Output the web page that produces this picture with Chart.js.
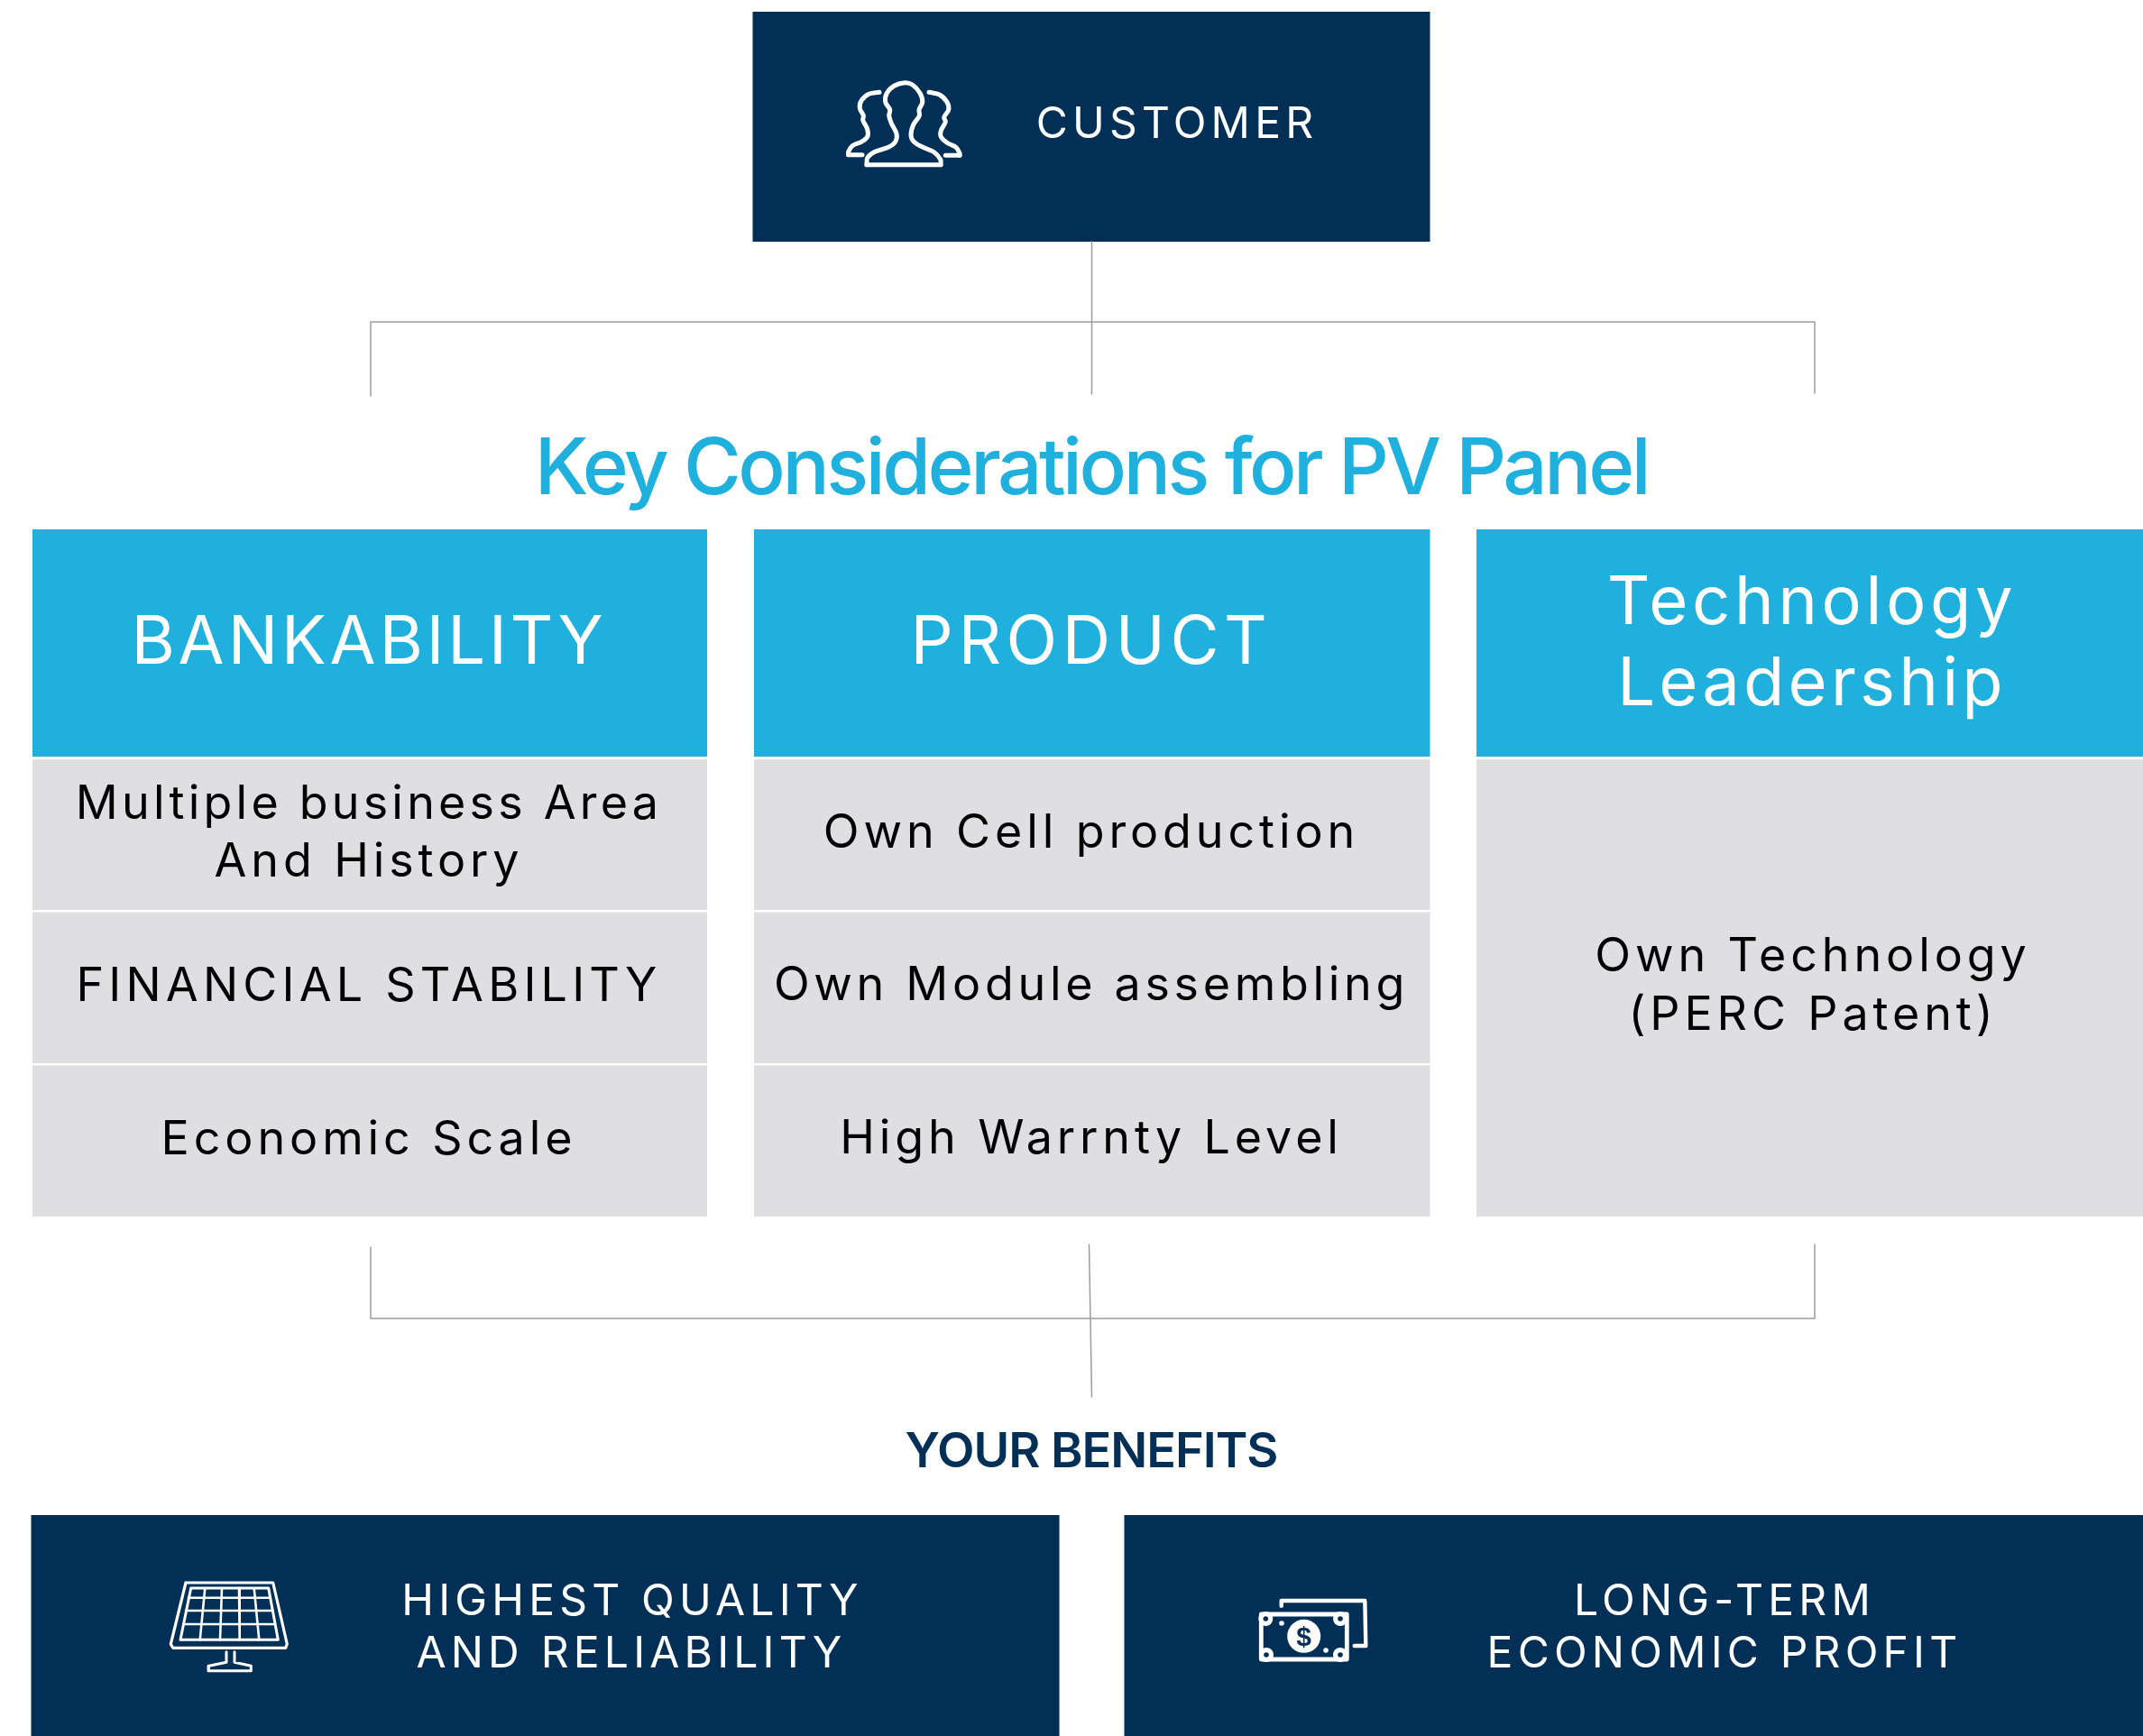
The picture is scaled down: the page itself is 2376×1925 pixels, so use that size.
<!DOCTYPE html>
<html lang="en">
<head>
    <meta charset="UTF-8">
    <title>Key Considerations for PV Panel</title>
    <script src="https://cdn.jsdelivr.net/npm/chart.js"></script>
    <style>
        html, body { margin: 0; padding: 0; background: #fff; overflow: hidden; }
        canvas { display: block; }
    </style>
</head>
<body>
    <canvas id="diagram" width="2376" height="1925"></canvas>

    <script>
        const NAVY = '#022f56';
        const SKY = '#20b0dd';
        const GREY = '#dfdfe1';
        const RULE = '#9c9c9c';

        // Layout of the diagram, in picture units
        const columnLeft = [36, 836, 1637];
        const columnRight = [784, 1585.5, 2376];
        const headTop = 587;
        const headBottom = 839;
        const rowTop = [842, 1011.5, 1181.5];
        const rowBottom = [1009, 1179, 1349];

        const navyLeft = [834.5, 34.5, 1246.5];
        const navyRight = [1585.5, 1174.5, 2376];
        const navyTop = [13, 1680, 1680];
        const navyBottom = [268, 1925, 1925];

        const upperBracketX = [411, 411, 2012, 2012];
        const upperBracketY = [439, 357, 357, 436];
        const upperStemX = [1210.5, 1210.5];
        const upperStemY = [268, 437];
        const lowerBracketX = [411, 411, 2012, 2012];
        const lowerBracketY = [1383, 1462, 1462, 1380];
        const lowerStemX = [1207.5, 1210.5];
        const lowerStemY = [1380, 1549];

        // Text
        const heads = ['BANKABILITY', 'PRODUCT', 'Technology', 'Leadership'];
        const headX = [409, 1210, 2009, 2009];
        const headY = [736, 736, 692, 782];
        const headSpacing = [3.8, 5.6, 4.6, 4.2];

        const cells = ['Multiple business Area', 'And History', 'FINANCIAL STABILITY', 'Economic Scale',
            'Own Cell production', 'Own Module assembling', 'High Warrnty Level',
            'Own Technology', '(PERC Patent)'];
        const cellX = [409, 409, 409, 409, 1210, 1210, 1210, 2010, 2010];
        const cellY = [908, 972, 1110, 1280, 940, 1109, 1279, 1077, 1142];
        const cellSpacing = [4.2, 4.9, 5.2, 4.9, 4.9, 4.7, 4.9, 4.9, 4.9];

        const banners = ['CUSTOMER', 'HIGHEST QUALITY', 'AND RELIABILITY', 'LONG-TERM', 'ECONOMIC PROFIT'];
        const bannerX = [1305, 701, 700, 1912, 1912];
        const bannerY = [153, 1791, 1849, 1791, 1849];

        // Icons
        const crowdMiddle = [[961,182.7],[961.7,175],[970,168.3],[985,163.3],[992.7,157.3],[994,148.3],[988.3,136.7],[985.7,128.3],[986.7,121.7],[981.7,113.3],[983.3,103.3],[991.7,95],[1003.3,91.7],[1011.7,94],[1020,103.3],[1022.7,113.3],[1019,121.7],[1019.3,128.3],[1012.7,138.3],[1010,150],[1013.3,157.3],[1023.3,163.3],[1035,168.3],[1042.7,176.7],[1043,182.7]];
        const crowdBase = [[961,182.7],[1043,182.7]];
        const crowdLeft = [[975,102.3],[963.3,104.3],[955,111.7],[953.3,120],[957.3,128.3],[956.7,133.3],[961.7,143.3],[961.7,151.7],[955,157.3],[945,161.7],[940.7,168.3],[940.7,171.7]];
        const crowdLeftFoot = [[940.7,171.7],[956,171.7]];
        const crowdRight = [[1030,102.3],[1041.7,105],[1050,113.3],[1051.7,121.7],[1046.7,130],[1048.3,135],[1043.3,145],[1043.3,151.7],[1050,158.3],[1060,163.3],[1064,170],[1064,172.3]];
        const crowdRightFoot = [[1064,172.3],[1048.3,172.3]];

        const panelFrame = [[206,1755],[302.7,1755],[318.3,1823],[316.7,1827.3],[191.7,1827.3],[189.3,1823],[206,1755]];
        const panelInner = [[211.7,1761],[297.7,1761],[308.3,1818.3],[200,1818.3],[211.7,1761]];
        const panelRows = [[[209,1771.7],[299.5,1771.7]], [[206,1786],[302.5,1786]], [[203.3,1801],[305,1801]]];
        const panelCols = [[[227.3,1761],[221.7,1818.3]], [[246,1761],[244,1818.3]], [[265,1761],[265.7,1818.3]], [[281.7,1761],[287.3,1818.3]]];
        const panelStand = [[251,1831.7],[251,1843.3],[231.7,1847.3],[231,1852.7],[278.3,1852.7],[278.3,1847.3],[260,1843.3],[260,1831.7]];

        const cashBack = [[1420.7,1780.7],[1420.7,1775],[1513.3,1775],[1514.3,1825],[1501.7,1825]];
        const cashFront = [[1398.3,1790],[1493.3,1790],[1493.3,1840],[1398.3,1840],[1398.3,1790]];
        const cashCorners = [[1403.3,1795],[1486,1795],[1404,1835],[1486,1835]];
        const cashDots = [[1421,1800],[1470,1830]];
        const cashCoin = [[1445.7,1814.3]];

        const toPoints = (xs, ys) => xs.map((x, i) => ({ x, y: ys[i] }));
        const fromPairs = pairs => pairs.map(p => ({ x: p[0], y: p[1] }));

        function block(xs, ys, colour) {
            return {
                data: toPoints([xs[0], xs[1], xs[1], xs[0], xs[0]], [ys[0], ys[0], ys[1], ys[1], ys[0]]),
                showLine: true, fill: 'shape', backgroundColor: colour,
                borderWidth: 0, pointRadius: 0
            };
        }

        function stroke(points, colour, width, tension) {
            return {
                data: points, showLine: true, fill: false, borderColor: colour,
                borderWidth: width, tension: tension || 0, pointRadius: 0,
                borderCapStyle: 'round', borderJoinStyle: 'round'
            };
        }

        function dots(pairs, colour, radius) {
            return {
                data: fromPairs(pairs), showLine: false, pointStyle: 'circle',
                pointRadius: radius, pointBackgroundColor: colour, pointBorderWidth: 0
            };
        }

        const datasets = [];
        navyLeft.forEach((left, i) => {
            datasets.push(block([left, navyRight[i]], [navyTop[i], navyBottom[i]], NAVY));
        });
        columnLeft.forEach((left, i) => {
            datasets.push(block([left, columnRight[i]], [headTop, headBottom], SKY));
        });
        [0, 1].forEach(c => rowTop.forEach((top, r) => {
            datasets.push(block([columnLeft[c], columnRight[c]], [top, rowBottom[r]], GREY));
        }));
        datasets.push(block([columnLeft[2], columnRight[2]], [rowTop[0], rowBottom[2]], GREY));

        datasets.push(stroke(toPoints(upperBracketX, upperBracketY), RULE, 1.5));
        datasets.push(stroke(toPoints(upperStemX, upperStemY), RULE, 1.5));
        datasets.push(stroke(toPoints(lowerBracketX, lowerBracketY), RULE, 1.5));
        datasets.push(stroke(toPoints(lowerStemX, lowerStemY), RULE, 1.5));

        [crowdMiddle, crowdLeft, crowdRight].forEach(p => datasets.push(stroke(fromPairs(p), '#fff', 5, 0.35)));
        [crowdBase, crowdLeftFoot, crowdRightFoot].forEach(p => datasets.push(stroke(fromPairs(p), '#fff', 5)));
        datasets.push(stroke(fromPairs(panelFrame), '#fff', 3.2));
        datasets.push(stroke(fromPairs(panelInner), '#fff', 3));
        panelRows.concat(panelCols).forEach(p => datasets.push(stroke(fromPairs(p), '#fff', 2.6)));
        datasets.push(stroke(fromPairs(panelStand), '#fff', 3));
        datasets.push(stroke(fromPairs(cashBack), '#fff', 4.4));
        datasets.push(stroke(fromPairs(cashFront), '#fff', 4.8));
        datasets.push(dots(cashCorners, '#fff', 8));
        datasets.push(dots(cashCorners, NAVY, 2.8));
        datasets.push(dots(cashDots, '#fff', 2.8));
        datasets.push(dots(cashCoin, '#fff', 18.5));

        // Chart.js paints the first dataset last, so flip to keep the push order
        datasets.reverse();

        const textPlugin = {
            id: 'diagramText',
            afterDatasetsDraw(chart) {
                const { ctx, scales } = chart;
                const put = (text, x, y, font, colour, spacing) => {
                    ctx.font = font;
                    ctx.fillStyle = colour;
                    ctx.letterSpacing = spacing + 'px';
                    ctx.textAlign = 'center';
                    ctx.textBaseline = 'alphabetic';
                    ctx.fillText(text, scales.x.getPixelForValue(x), scales.y.getPixelForValue(y));
                };
                ctx.save();
                put('Key Considerations for PV Panel', 1210, 548, '500 87px Inter', SKY, -3.45);
                put('YOUR BENEFITS', 1210, 1627, '600 54px Inter', NAVY, -1);
                heads.forEach((t, i) => put(t, headX[i], headY[i], '400 74px Inter', '#fff', headSpacing[i]));
                cells.forEach((t, i) => put(t, cellX[i], cellY[i], '400 52px Inter', '#000', cellSpacing[i]));
                banners.forEach((t, i) => put(t, bannerX[i], bannerY[i], '400 48px Inter', '#fff', 5.2));
                put('$', cashCoin[0][0], 1824.5, 'bold 30px "Liberation Sans"', NAVY, 0);
                ctx.restore();
            }
        };

        new Chart(document.getElementById('diagram'), {
            type: 'scatter',
            data: { datasets },
            plugins: [textPlugin],
            options: {
                responsive: false,
                animation: false,
                layout: { padding: 0, autoPadding: false },
                plugins: { legend: { display: false }, tooltip: { enabled: false } },
                scales: {
                    x: { type: 'linear', min: 0, max: 2376, display: false },
                    y: { type: 'linear', min: 0, max: 1925, reverse: true, display: false }
                }
            }
        });
    </script>
</body>
</html>
